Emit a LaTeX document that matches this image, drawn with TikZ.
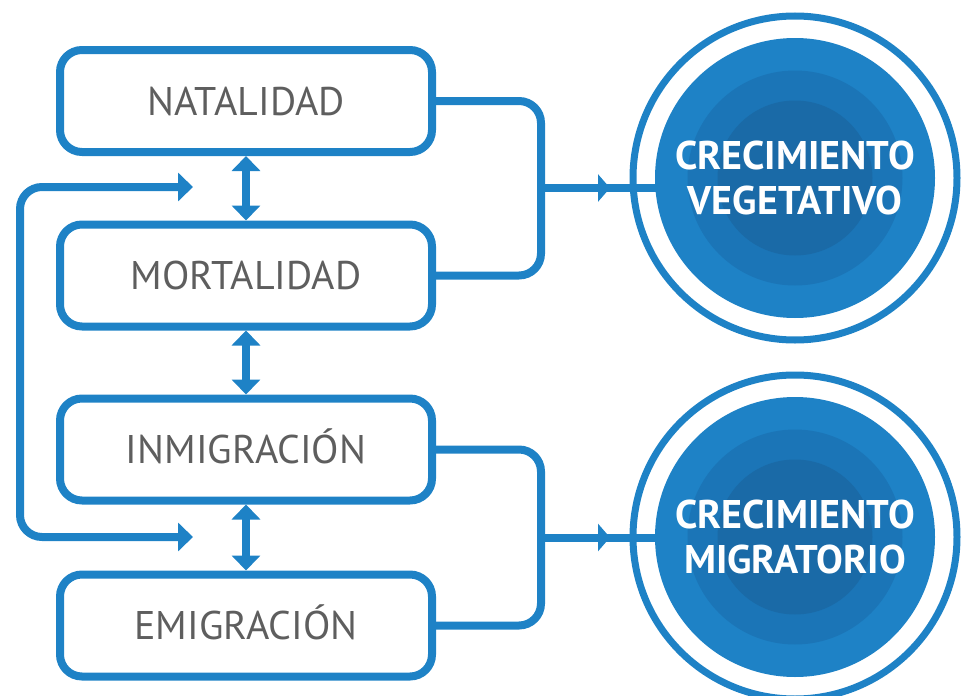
\documentclass[tikz,border=0pt]{standalone}
\usepackage{fontspec}
\setmainfont{PT Sans}
\usetikzlibrary{positioning,arrows.meta}
\definecolor{cblue}{HTML}{1E82C6}
\definecolor{cblueB}{HTML}{1B75B7}
\definecolor{cblueC}{HTML}{1A6AA7}
\definecolor{cgray}{HTML}{5E5E5E}

\begin{document}
\begin{tikzpicture}[x=1pt, y=-1pt]
    % Define styles
    \tikzset{box/.style={draw=cblue, line width=8pt, rounded corners=22pt, minimum width=372pt, minimum height=102pt, text=cgray, text height=28pt, text depth=0pt, font=\fontsize{40}{48}\selectfont}}
    \tikzset{growth/.style={circle, fill=cblue, minimum size=280pt, inner sep=0pt, align=center, text=white, font=\fontsize{40}{45}\selectfont\bfseries,
        path picture={\fill[cblueB] (path picture bounding box.center) circle (107.5pt);
                      \fill[cblueC] (path picture bounding box.center) circle (77.5pt);}}}
    \tikzset{ring/.style={draw=cblue, line width=7pt}}
    \tikzset{link/.style={draw=cblue, line width=8pt, rounded corners=22pt}}
    \tikzset{bigtip/.style={{Triangle[length=15pt,width=28pt]}-{Triangle[length=15pt,width=28pt]}}}
    \tikzset{smalltip/.style={-{Triangle[length=12pt,width=27pt]}}}

    \useasboundingbox (0,0) rectangle (962,696);

    % Draw boxes
    \node[box] (nat) at (246,101) {NATALIDAD};
    \node[box] (mort) at (246,275.5) {MORTALIDAD};
    \node[box] (inm) at (246,449.5) {INMIGRACIÓN};
    \node[box] (emi) at (246,625.5) {EMIGRACIÓN};

    % Junction points
    \coordinate (vegin) at (541,188);
    \coordinate (migin) at (541,537.5);
    \coordinate (loopin) at (193,187);
    \coordinate (loopleft) at (20,362);
    \coordinate (loopout) at (193,537);

    % Brackets and arrows into circles
    \draw[link] (nat.east) -- ++(105,0) |- (mort.east);
    \draw[link] (inm.east) -- ++(105,0) |- (emi.east);
    \draw[link] (vegin) -- (vegin -| 660,0);
    \draw[link] (migin) -- (migin -| 660,0);
    \draw[link, smalltip] (vegin) -- ++(69,0);
    \draw[link, smalltip] (migin) -- ++(69,0);

    % Draw circles
    \draw[ring] (795,178) circle (162pt);
    \node[growth] (veg) at (795,178) {CRECIMIENTO\\VEGETATIVO};
    \draw[ring] (795,537) circle (162pt);
    \node[growth] (mig) at (795,537) {CRECIMIENTO\\MIGRATORIO};

    % Arrows between boxes
    \draw[link, bigtip] (nat.south) -- (mort.north);
    \draw[link, bigtip] (mort.south) -- (inm.north);
    \draw[link, bigtip] (inm.south) -- (emi.north);

    % Left loop
    \draw[link, bigtip] (loopin) -| (loopleft) |- (loopout);
\end{tikzpicture}
\end{document}
